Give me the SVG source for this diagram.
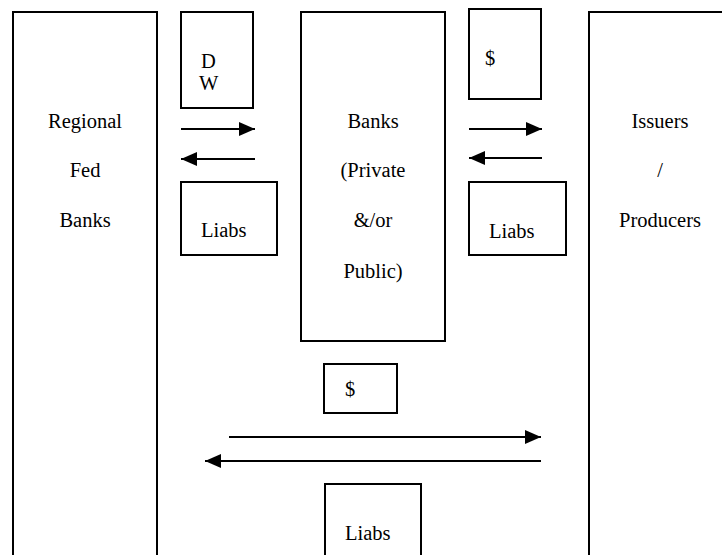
<svg xmlns="http://www.w3.org/2000/svg" width="722" height="555" viewBox="0 0 722 555">
<style>
.b{fill:none;stroke:#000;stroke-width:2}
text{font-family:"Liberation Serif","Times New Roman",serif;font-size:20.5px;fill:#000}
.c{text-anchor:middle}
line{stroke:#000;stroke-width:2}
</style>
<defs>
<marker id="ah" markerUnits="userSpaceOnUse" markerWidth="16" markerHeight="14" refX="16" refY="7" orient="auto">
<path d="M0,0 L16,7 L0,14 Z" fill="#000"/>
</marker>
</defs>
<g id="fed">
<rect class="b" x="13" y="12" width="144" height="560"/>
<text class="c" x="85" y="128">Regional</text>
<text class="c" x="85" y="177">Fed</text>
<text class="c" x="85" y="227">Banks</text>
</g>
<g id="banks">
<rect class="b" x="301" y="12" width="144" height="329"/>
<text class="c" x="373" y="128">Banks</text>
<text class="c" x="373" y="177">(Private</text>
<text class="c" x="373" y="227">&amp;/or</text>
<text class="c" x="373" y="278">Public)</text>
</g>
<g id="issuers">
<rect class="b" x="589" y="12" width="150" height="560"/>
<text class="c" x="660" y="128">Issuers</text>
<text class="c" x="660" y="177">/</text>
<text class="c" x="660" y="227">Producers</text>
</g>
<g id="dw">
<rect class="b" x="181" y="12" width="72" height="96"/>
<text x="201" y="68">D</text>
<text x="199" y="90">W</text>
</g>
<g id="liabs1">
<rect class="b" x="181" y="182" width="96" height="73"/>
<text x="201" y="237">Liabs</text>
</g>
<g id="dollar1">
<rect class="b" x="469" y="9" width="72" height="90"/>
<text x="485" y="65">$</text>
</g>
<g id="liabs2">
<rect class="b" x="469" y="182" width="97" height="73"/>
<text x="489" y="238">Liabs</text>
</g>
<g id="dollar2">
<rect class="b" x="324" y="364" width="73" height="49"/>
<text x="345" y="396">$</text>
</g>
<g id="liabs3">
<rect class="b" x="325" y="484" width="96" height="90"/>
<text x="345" y="540">Liabs</text>
</g>
<g id="connectors">
<line x1="181" y1="129" x2="255" y2="129" marker-end="url(#ah)"/>
<line x1="255" y1="159" x2="181" y2="159" marker-end="url(#ah)"/>
<line x1="469" y1="129" x2="542" y2="129" marker-end="url(#ah)"/>
<line x1="542" y1="158" x2="469" y2="158" marker-end="url(#ah)"/>
<line x1="229" y1="437" x2="541" y2="437" marker-end="url(#ah)"/>
<line x1="541" y1="461" x2="205" y2="461" marker-end="url(#ah)"/>
</g>
</svg>
